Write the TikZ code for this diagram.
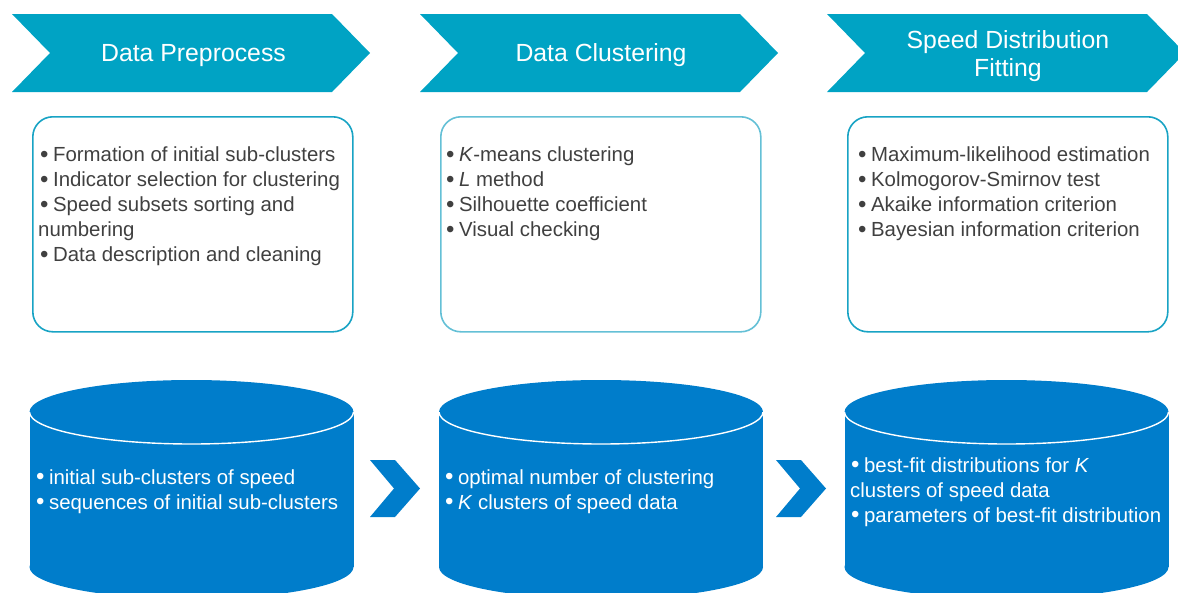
\documentclass[tikz,border=0pt]{standalone}
\usepackage{fontspec}
\setmainfont{Liberation Sans}
\definecolor{stageteal}{RGB}{0,163,196}
\definecolor{panelteal}{RGB}{24,163,196}
\definecolor{panellight}{RGB}{100,192,214}
\definecolor{dbblue}{RGB}{0,125,203}
\definecolor{bodytext}{RGB}{64,64,64}
% list bullet, set a little larger than the running text
\newcommand{\itembullet}{{\fontsize{24}{25}\selectfont\raisebox{-0.04em}{•}}\hspace{0.22em}}
\begin{document}
\begin{tikzpicture}[x=1pt,y=-1pt,
  stage/.style={fill=stageteal},
  stagetitle/.style={text=white, font=\fontsize{24.8}{28}\selectfont, anchor=base, inner sep=0},
  panel/.style={draw=#1, line width=1.6, rounded corners=20, anchor=north west,
    minimum width=320, minimum height=215, inner sep=0},
  panelline/.style={text=bodytext, font=\fontsize{20.4}{25}\selectfont, anchor=base west, inner sep=0},
  dbline/.style={text=white, font=\fontsize{20.4}{25}\selectfont, anchor=base west, inner sep=0},
  db/.style={fill=dbblue},
  flow/.style={fill=dbblue}]
\clip (0,0) rectangle (1178,592);

% stage chevrons with their titles
\foreach \dx in {0,408,815}{
  \fill[stage] (12+\dx,14) -- (332+\dx,14) -- (370+\dx,53) -- (332+\dx,92)
    -- (12+\dx,92) -- (50+\dx,53) -- cycle;
}
\node[stagetitle] (t1) at (193.5,61) {Data Preprocess};
\node[stagetitle] (t2) at (601,61) {Data Clustering};
\node[stagetitle] (t3a) at (1008,48) {Speed Distribution};
\node[stagetitle] (t3b) at (1008,76) {Fitting};

% method panels
\node[panel=panelteal] (p1) at (32,116) {};
\node[panel=panellight] (p2) at (440,116) {};
\node[panel=panelteal] (p3) at (847,116) {};

\node[panelline] (p1l1) at (40,161.5) {\itembullet Formation of initial sub-clusters};
\node[panelline] (p1l2) at (40,186.5) {\itembullet Indicator selection for clustering};
\node[panelline] (p1l3) at (40,211.5) {\itembullet Speed subsets sorting and};
\node[panelline] (p1l4) at (38,236.5) {numbering};
\node[panelline] (p1l5) at (40,261.5) {\itembullet Data description and cleaning};

\node[panelline] (p2l1) at (446,161.5) {\itembullet \textit{K}-means clustering};
\node[panelline] (p2l2) at (446,186.5) {\itembullet \textit{L} method};
\node[panelline] (p2l3) at (446,211.5) {\itembullet Silhouette coefficient};
\node[panelline] (p2l4) at (446,236.5) {\itembullet Visual checking};

\node[panelline] (p3l1) at (858,161.5) {\itembullet Maximum-likelihood estimation};
\node[panelline] (p3l2) at (858,186.5) {\itembullet Kolmogorov-Smirnov test};
\node[panelline] (p3l3) at (858,211.5) {\itembullet Akaike information criterion};
\node[panelline] (p3l4) at (858,236.5) {\itembullet Bayesian information criterion};

% data stores
\foreach \cx in {191.5,601,1006.5}{
  \fill[db] (\cx-162,412) rectangle (\cx+162,567);
  \fill[db] (\cx,412) ellipse[x radius=162, y radius=32];
  \fill[db] (\cx,567) ellipse[x radius=162, y radius=32];
  \begin{scope}
    \clip (\cx-170,412) rectangle (\cx+170,460);
    \draw[white, line width=1.4] (\cx,412) ellipse[x radius=162, y radius=32];
  \end{scope}
}

\node[dbline] (d1l1) at (36,484) {\itembullet initial sub-clusters of speed};
\node[dbline] (d1l2) at (36,509) {\itembullet sequences of initial sub-clusters};

\node[dbline] (d2l1) at (445,484) {\itembullet optimal number of clustering};
\node[dbline] (d2l2) at (445,509) {\itembullet \textit{K} clusters of speed data};

\node[dbline] (d3l1) at (851,472) {\itembullet best-fit distributions for \textit{K}};
\node[dbline] (d3l2) at (850,497) {clusters of speed data};
\node[dbline] (d3l3) at (851,522) {\itembullet parameters of best-fit distribution};

% flow arrows between the data stores
\foreach \dx in {0,406}{
  \fill[flow] (370+\dx,460) -- (395+\dx,460) -- (420+\dx,488.5) -- (395+\dx,517)
    -- (370+\dx,517) -- (394+\dx,488.5) -- cycle;
}
\end{tikzpicture}
\end{document}
